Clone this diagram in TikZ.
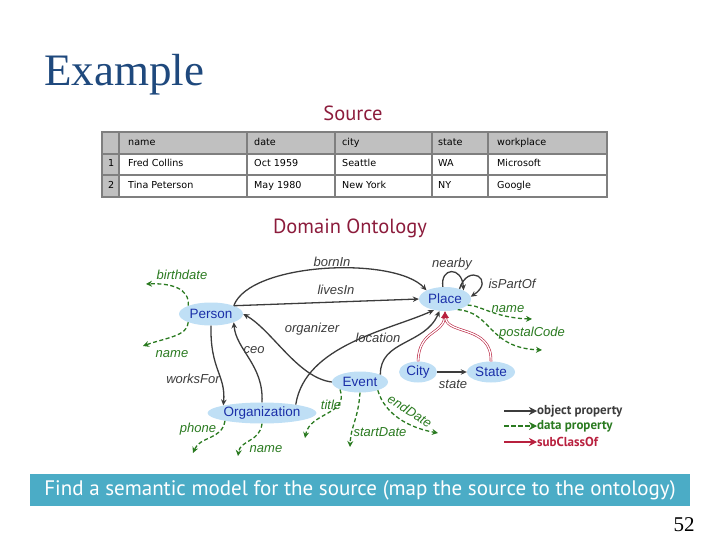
\documentclass[tikz,border=0pt]{standalone}
\usepackage{fontspec}
\setmainfont{Liberation Serif}
\setsansfont{Liberation Sans}
\newfontfamily\slidefont{PT Sans}
\newfontfamily\tablefont{DejaVu Sans}
\usetikzlibrary{arrows.meta,positioning,shapes.geometric}

\definecolor{titleblue}{HTML}{1F497D}
\definecolor{headred}{HTML}{8C1C3C}
\definecolor{clsfill}{HTML}{BFDFF5}
\definecolor{clstext}{HTML}{1A2FA8}
\definecolor{objgray}{HTML}{3C3C3C}
\definecolor{datagreen}{HTML}{2A7A20}
\definecolor{subred}{HTML}{B8203E}
\definecolor{bannerblue}{HTML}{4BACC6}
\definecolor{tablegray}{HTML}{C0C0C0}
\definecolor{tableline}{HTML}{7F7F7F}

\begin{document}
\begin{tikzpicture}[
  x=1pt, y=-1pt,
  cls/.style={ellipse, fill=clsfill, text=clstext, inner sep=0pt, font=\sffamily\fontsize{13.5}{15}\selectfont},
  objlbl/.style={text=objgray, inner sep=1pt, font=\sffamily\itshape\fontsize{13}{15}\selectfont},
  datalbl/.style={text=datagreen, inner sep=1pt, font=\sffamily\itshape\fontsize{13}{15}\selectfont},
  obj/.style={draw=objgray, line width=1.3pt, -{Stealth[length=6pt,width=5.5pt]}},
  dat/.style={draw=datagreen, line width=1.3pt, dash pattern=on 4pt off 2.5pt, -{Stealth[length=6pt,width=6pt]}},
  sub/.style={draw=subred, double=white, double distance=1.3pt, line width=0.6pt, -{Latex[length=7pt,width=7pt]}},
  cell/.style={anchor=west, inner sep=0pt, text height=7pt, text depth=2pt, font=\tablefont\fontsize{9.6}{11}\selectfont},
  heading/.style={text=headred, font=\slidefont\fontsize{20.5}{24}\selectfont},
  legend/.style={anchor=west, inner sep=0pt, font=\slidefont\bfseries\fontsize{13}{15}\selectfont}
]
\useasboundingbox (0,0) rectangle (720,540);

% Title and headings
\node[anchor=base west, inner sep=0pt, text=titleblue, font=\fontsize{45}{50}\selectfont] (title) at (44,86) {Example};
\node[heading] (source) at (353,113) {Source};
\node[heading] (ontology) at (350,228) {Domain Ontology};

% Source table
\fill[tablegray] (102,132) rectangle (607,154);
\fill[tablegray] (102,154) rectangle (119,197);
\draw[tableline, line width=1.8pt] (102,132) rectangle (607,197);
\foreach \y in {154,175}
  \draw[tableline, line width=1.8pt] (102,\y) -- (607,\y);
\foreach \x in {119,247,335,432,488}
  \draw[tableline, line width=1.8pt] (\x,132) -- (\x,197);
\foreach \x/\t [count=\i] in {128/name,254/date,342/city,438/state,497/workplace}
  \node[cell] (head\i) at (\x,143) {\t};
\foreach \x/\t [count=\i] in {108/1,128/Fred Collins,254/Oct 1959,342/Seattle,438/WA,497/Microsoft}
  \node[cell] (rowa\i) at (\x,164) {\t};
\foreach \x/\t [count=\i] in {108/2,128/Tina Peterson,254/May 1980,342/New York,438/NY,497/Google}
  \node[cell] (rowb\i) at (\x,186) {\t};

% Ontology classes
\node[cls, minimum width=64pt, minimum height=23pt] (person) at (211,314) {Person};
\node[cls, minimum width=52pt, minimum height=24pt] (place) at (445,299) {Place};
\node[cls, minimum width=56pt, minimum height=21pt] (event) at (360,382) {Event};
\node[cls, minimum width=109pt, minimum height=21pt] (organization) at (262,413) {Organization};
\node[cls, minimum width=38pt, minimum height=21pt] (city) at (418,372) {City};
\node[cls, minimum width=48pt, minimum height=21pt] (state) at (491,372) {State};

% Ends of data properties
\coordinate (birthend) at (146,284);
\coordinate (pnameend) at (143,346);
\coordinate (phoneend) at (193,453);
\coordinate (onameend) at (238,456);
\coordinate (titleend) at (305,438);
\coordinate (startend) at (350,447);
\coordinate (endend) at (438,433);
\coordinate (plnameend) at (532,319);
\coordinate (postalend) at (542,350);

% Object properties
\draw[obj] (person.north east) .. controls (250,262) and (395,256) .. (place.north west);
\draw[obj] (person.north east) -- (place.west);
\draw[obj] (place.100) .. controls (440,267) and (462,266) .. (place.north east);
\draw[obj] (place.35) .. controls (468,262) and (496,280) .. (place.5);
\draw[obj] (event.west) .. controls (298,378) and (272,330) .. (person.east);
\draw[obj] (organization.14) .. controls (305,345) and (390,330) .. (place.225);
\draw[obj] (event.20) .. controls (380,340) and (425,345) .. (place.245);
\draw[obj] (organization.north) .. controls (264,365) and (236,350) .. (person.south east);
\draw[obj] (person.south) .. controls (210,370) and (226,375) .. (organization.north west);
\draw[obj] (city.east) -- (state.west);

\node[objlbl] (lborn) at (332,262) {bornIn};
\node[objlbl] (llives) at (336,290) {livesIn};
\node[objlbl] (lnear) at (452,264) {nearby};
\node[objlbl] (lpart) at (512,284) {isPartOf};
\node[objlbl] (lorg) at (312,329) {organizer};
\node[objlbl] (lloc) at (378,338) {location};
\node[objlbl] (lceo) at (254,350) {ceo};
\node[objlbl] (lworks) at (193,379) {worksFor};
\node[objlbl] (lstate) at (453,384) {state};

% Data properties
\draw[dat] (person.north west) .. controls (190,288) and (170,283) .. (birthend);
\draw[dat] (person.south west) .. controls (188,336) and (165,338) .. (pnameend);
\draw[dat] (organization.192) .. controls (222,440) and (200,436) .. (phoneend);
\draw[dat] (organization.south) .. controls (260,442) and (240,440) .. (onameend);
\draw[dat] (event.south west) .. controls (349,415) and (310,412) .. (titleend);
\draw[dat] (event.south) .. controls (358,420) and (351,425) .. (startend);
\draw[dat] (event.-25) .. controls (385,415) and (410,428) .. (endend);
\draw[dat] (place.-15) .. controls (480,305) and (495,318) .. (plnameend);
\draw[dat] (place.-40) .. controls (492,312) and (488,348) .. (postalend);

\node[datalbl] (dbirth) at (182,275) {birthdate};
\node[datalbl] (dpname) at (172,354) {name};
\node[datalbl] (dphone) at (198,429) {phone};
\node[datalbl] (doname) at (266,449) {name};
\node[datalbl] (dtitle) at (331,405) {title};
\node[datalbl] (dstart) at (380,432) {startDate};
\node[datalbl, rotate=-32, inner sep=0pt] (dend) at (410,411) {endDate};
\node[datalbl] (dplname) at (508,309) {name};
\node[datalbl] (dpostal) at (532,333) {postalCode};

% subClassOf
\draw[sub] (city.north) .. controls (419,330) and (443,334) .. (place.south);
\draw[sub] (state.north) .. controls (492,325) and (447,335) .. (place.south);

% Legend
\coordinate (legobjstart) at (504,411);
\coordinate (legdatstart) at (504,426);
\coordinate (legsubstart) at (504,442);
\node[legend, text=objgray] (legobj) at (537,411) {object property};
\node[legend, text=datagreen] (legdat) at (537,426) {data property};
\node[legend, text=subred] (legsub) at (537,442) {subClassOf};
\draw[objgray, line width=2.4pt, -{Stealth[length=8pt,width=8pt]}] (legobjstart) -- (legobj.west);
\draw[datagreen, line width=2.4pt, dash pattern=on 5pt off 2pt, -{Stealth[length=8pt,width=8pt]}] (legdatstart) -- (legdat.west);
\draw[subred, line width=2.4pt, -{Stealth[length=8pt,width=8pt]}] (legsubstart) -- (legsub.west);

% Banner and page number
\node[fill=bannerblue, text=white, minimum width=660pt, minimum height=32pt, inner sep=0pt,
  font=\slidefont\fontsize{21}{23}\selectfont] (banner) at (360,490)
  {Find a semantic model for the source (map the source to the ontology)};
\node[inner sep=0pt, font=\fontsize{21}{24}\selectfont] (pagenum) at (684,525) {52};

\end{tikzpicture}
\end{document}
